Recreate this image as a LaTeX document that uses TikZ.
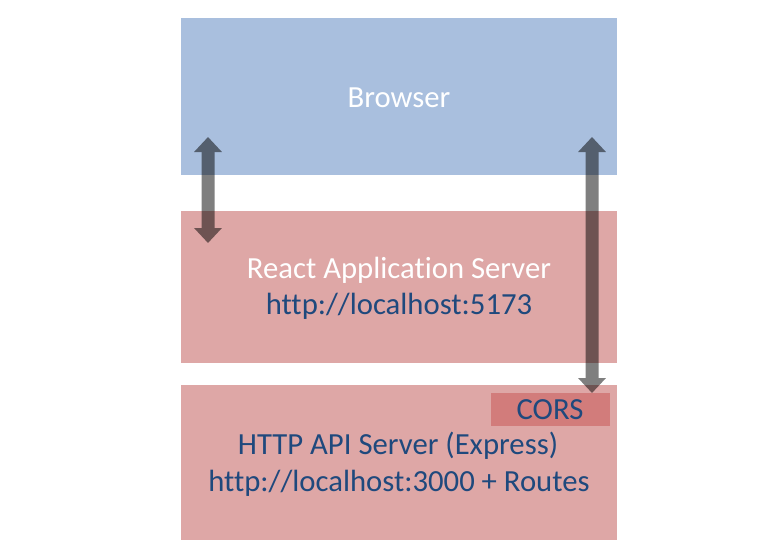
\documentclass[tikz,border=0pt]{standalone}
\usepackage{fontspec}
\setmainfont[Ligatures={NoCommon}]{Carlito}
\usetikzlibrary{arrows.meta}
\definecolor{boxblue}{HTML}{A9BFDE}
\definecolor{boxred}{HTML}{DEA7A6}
\definecolor{corsred}{HTML}{D27C7B}
\definecolor{txtblue}{HTML}{1F497D}
\tikzset{
  lbl/.style={font=\fontsize{30.7}{36}\selectfont, inner sep=0pt, anchor=center},
  fatarrow/.style={line width=13pt, {Triangle[width=27pt,length=15pt]}-{Triangle[width=27pt,length=15pt]}},
}
\begin{document}
\begin{tikzpicture}[x=1pt,y=-1pt]
\useasboundingbox (0,0) rectangle (776,552);
% panels
\fill[boxblue] (181,18) rectangle (617,175);
\fill[boxred] (181,211) rectangle (617,363);
\fill[boxred] (181,385) rectangle (617,540);
\fill[corsred] (491,393) rectangle (610,426);
% texts
\node[lbl, white] (browser) at (399,98) {Browser};
\node[lbl, white] (react) at (399,270) {React Application Server};
\node[lbl, txtblue] (reacturl) at (399,306) {http://localhost:5173};
\node[lbl, txtblue] (cors) at (550,410) {CORS};
\node[lbl, txtblue] (api) at (398,446) {HTTP API Server (Express)};
\node[lbl, txtblue] (apiurl) at (399,483) {http://localhost:3000 + Routes};
% arrows
\coordinate (la1) at (208,137);
\coordinate (la2) at (208,243);
\coordinate (ra1) at (592,137);
\coordinate (ra2) at (592,393);
\begin{scope}[transparency group, opacity=0.5]
\draw[fatarrow, black] (la1) -- (la2);
\draw[fatarrow, black] (ra1) -- (ra2);
\end{scope}
\end{tikzpicture}
\end{document}
